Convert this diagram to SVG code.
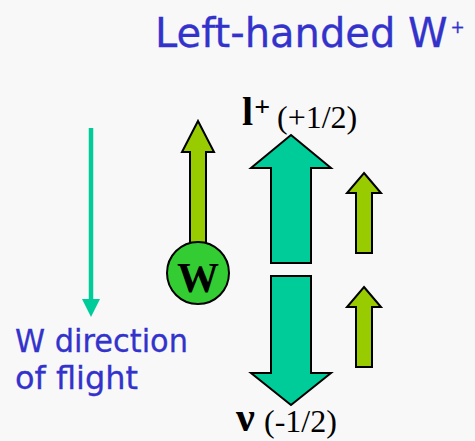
<svg xmlns="http://www.w3.org/2000/svg" width="475" height="441" viewBox="0 0 475 441">
<style>
.blue{font-family:"DejaVu Sans","Liberation Sans",sans-serif;fill:#3333cc;stroke:#3333cc;stroke-width:0.3}
.serif{font-family:"Liberation Serif","Times New Roman",serif;fill:#000}
.teal{fill:#00cc99;stroke:#000;stroke-width:2;stroke-linejoin:miter}
.lime{fill:#99cc00;stroke:#000;stroke-width:2;stroke-linejoin:miter}
</style>
<defs>
<marker id="ah" markerWidth="4" markerHeight="4" refX="2" refY="2" orient="auto" markerUnits="strokeWidth"><path d="M0,0 L4,2 L0,4 Z" fill="#00cc99"/></marker>
</defs>
<rect width="475" height="441" fill="#f8f8f8"/>
<g id="title"><text class="blue" x="155" y="47" font-size="40">Left-handed W<tspan font-size="17" dx="3" dy="-14">+</tspan></text></g>
<g id="connectors">
<line x1="91" y1="128" x2="91" y2="308" stroke="#00cc99" stroke-width="4.5" marker-end="url(#ah)"/>
</g>
<g id="direction-label">
<text class="blue" x="15" y="352" font-size="32" textLength="173" lengthAdjust="spacingAndGlyphs">W direction</text>
<text class="blue" x="15" y="389" font-size="32" textLength="123" lengthAdjust="spacingAndGlyphs">of flight</text>
</g>
<g id="w-spin">
<path class="lime" d="M198,121 L214,152 L206,152 L206,244 L190,244 L190,152 L182,152 Z"/>
</g>
<g id="w-boson">
<circle cx="198" cy="273" r="31" fill="#33cc33" stroke="#000" stroke-width="2"/>
<text class="serif" x="198" y="292" font-size="42" font-weight="bold" text-anchor="middle">W</text>
</g>
<g id="lepton">
<path class="teal" d="M291,135 L331,168 L311,168 L311,263 L271,263 L271,168 L251,168 Z"/>
<text class="serif" x="242" y="125" font-size="40" font-weight="bold">l<tspan font-size="28" dx="1" dy="-9">+</tspan></text>
<text class="serif" x="277" y="128" font-size="32">(+1/2)</text>
</g>
<g id="lepton-spin">
<path class="lime" d="M364,173 L381,193 L372,193 L372,253 L356,253 L356,193 L347,193 Z"/>
</g>
<g id="neutrino">
<path class="teal" d="M271,276 L311,276 L311,373 L331,373 L291,405 L251,373 L271,373 Z"/>
<text class="serif" x="236" y="431" font-size="42" font-weight="bold">ν</text>
<text class="serif" x="264" y="432" font-size="32">(-1/2)</text>
</g>
<g id="neutrino-spin">
<path class="lime" d="M364,287 L381,307 L372,307 L372,367 L356,367 L356,307 L347,307 Z"/>
</g>
</svg>
